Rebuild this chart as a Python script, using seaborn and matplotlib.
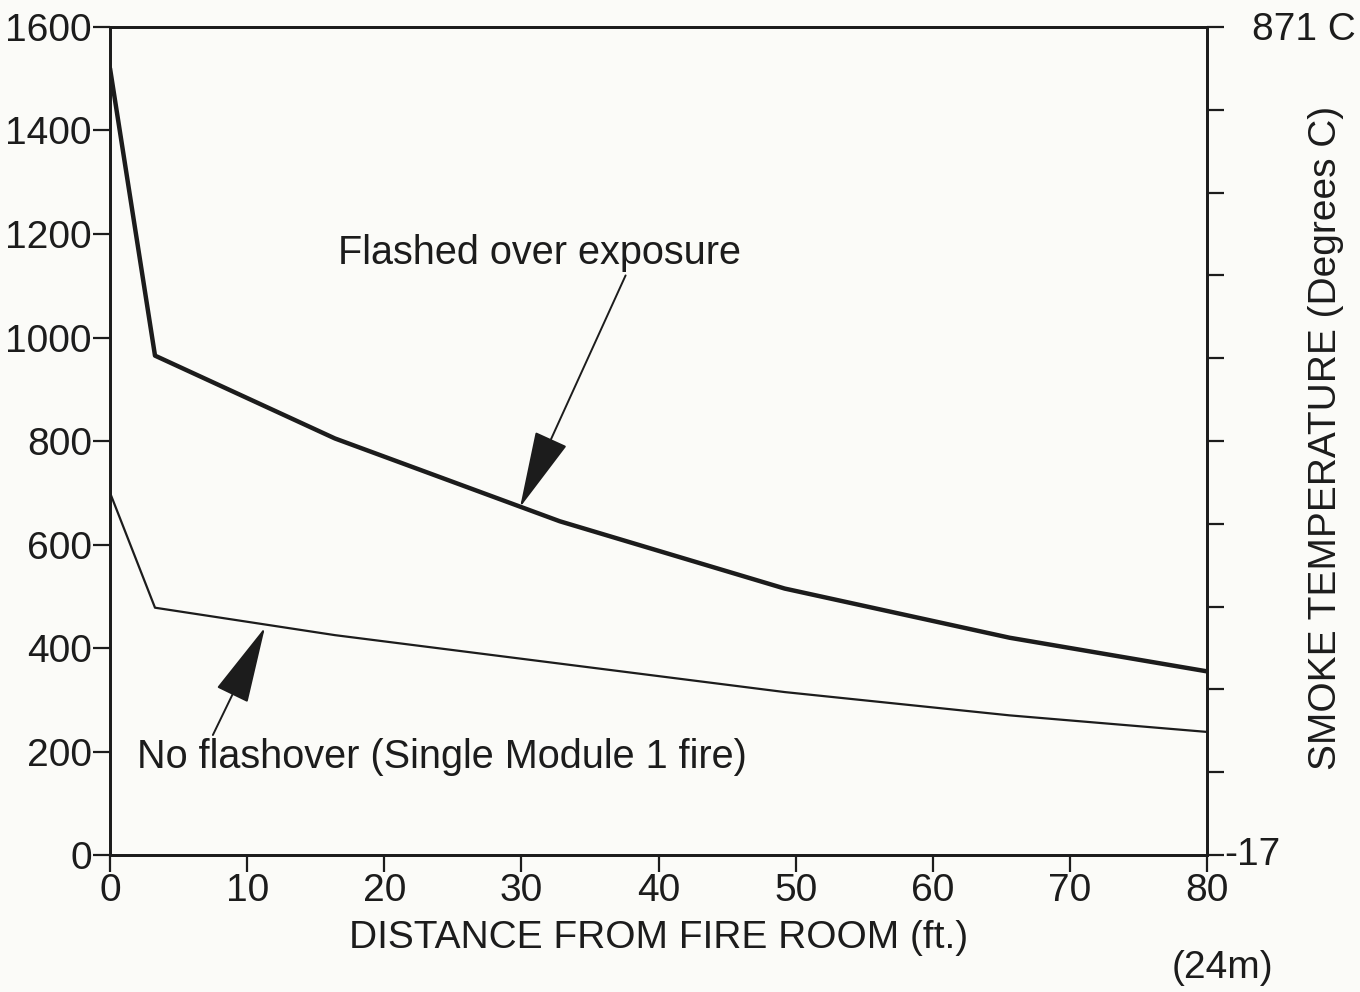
import numpy as np
import pandas as pd
import matplotlib
matplotlib.use("Agg")
import matplotlib.pyplot as plt
import seaborn as sns

# Distance from the fire room (ft) at which smoke temperatures are given
distance_ft = [0, 3.28, 16.4, 32.8, 49.2, 65.6, 80]
# Smoke temperature (deg F) for a flashed-over room
flashed_over_F = [1520, 965, 805, 645, 515, 420, 355]
# Smoke temperature (deg F) without flashover (single Module 1 fire)
no_flashover_F = [700, 478, 425, 370, 315, 270, 238]

x_ticks = [0, 10, 20, 30, 40, 50, 60, 70, 80]
y_ticks = [0, 200, 400, 600, 800, 1000, 1200, 1400, 1600]

sns.set_style("ticks")
plt.rcParams["font.family"] = ["Liberation Sans", "DejaVu Sans"]
bg = "#fbfbf8"
ink = "#1c1c1c"
FS = 28

df = pd.DataFrame({
    "dist": distance_ft * 2,
    "temp": flashed_over_F + no_flashover_F,
    "case": ["flashed"] * len(distance_ft) + ["none"] * len(distance_ft),
})

fig = plt.figure(figsize=(13.6, 9.92), dpi=100, facecolor=bg)
ax = fig.add_axes([0.0809, 0.138, 0.8066, 0.8348])
ax.set_facecolor(bg)

sns.lineplot(data=df[df.case == "flashed"], x="dist", y="temp", ax=ax,
             color=ink, linewidth=3.2, legend=False)
sns.lineplot(data=df[df.case == "none"], x="dist", y="temp", ax=ax,
             color=ink, linewidth=1.6, legend=False)

ax.set_xlim(0, 80)
ax.set_ylim(0, 1600)
ax.set_xticks(x_ticks)
ax.set_yticks(y_ticks)
ax.tick_params(axis="both", direction="out", length=12, width=1.6,
               labelsize=FS, colors=ink, pad=1)
ax.tick_params(axis="x", pad=1)
for s in ax.spines.values():
    s.set_linewidth(2)
    s.set_color(ink)
ax.set_xlabel("DISTANCE FROM FIRE ROOM (ft.)", fontsize=FS, color=ink,
              labelpad=8)
ax.set_ylabel("")

# Right-hand scale in degrees C
axr = ax.twinx()
c_lo = (0 - 32) * 5 / 9
c_hi = (1600 - 32) * 5 / 9
axr.set_ylim(c_lo, c_hi)
axr.set_yticks(np.linspace(c_lo, c_hi, 11))
axr.set_yticklabels([])
axr.tick_params(axis="y", direction="out", length=12, width=1.6, colors=ink)
for s in axr.spines.values():
    s.set_linewidth(2)
    s.set_color(ink)
axr.set_ylabel("")

fig.text(1252 / 1360, 1 - 30 / 992, "871 C", fontsize=FS, color=ink,
         ha="left", va="center")
fig.text(1224 / 1360, 1 - 855 / 992, "-17", fontsize=FS, color=ink,
         ha="left", va="center")
fig.text(1326 / 1360, 1 - 438 / 992, "SMOKE TEMPERATURE (Degrees C)",
         fontsize=FS, color=ink, ha="center", va="center", rotation=90)
fig.text(1222 / 1360, 1 - 968 / 992, "(24m)", fontsize=FS, color=ink,
         ha="center", va="center")

arrow = dict(arrowstyle="-|>,head_length=2.0,head_width=0.45",
             mutation_scale=25, color=ink, linewidth=1.4,
             shrinkA=0, shrinkB=0)
ax.annotate("", xy=(29.9, 672), xytext=(37.6, 1120), arrowprops=arrow)
ax.text(16.6, 1163, "Flashed over exposure", fontsize=28.5, color=ink,
        ha="left", va="center")
ax.annotate("", xy=(11.3, 440), xytext=(7.5, 232), arrowprops=arrow)
ax.text(2.0, 189, "No flashover (Single Module 1 fire)", fontsize=28.5,
        color=ink, ha="left", va="center")

fig.savefig("out.png", dpi=100, facecolor=bg)
